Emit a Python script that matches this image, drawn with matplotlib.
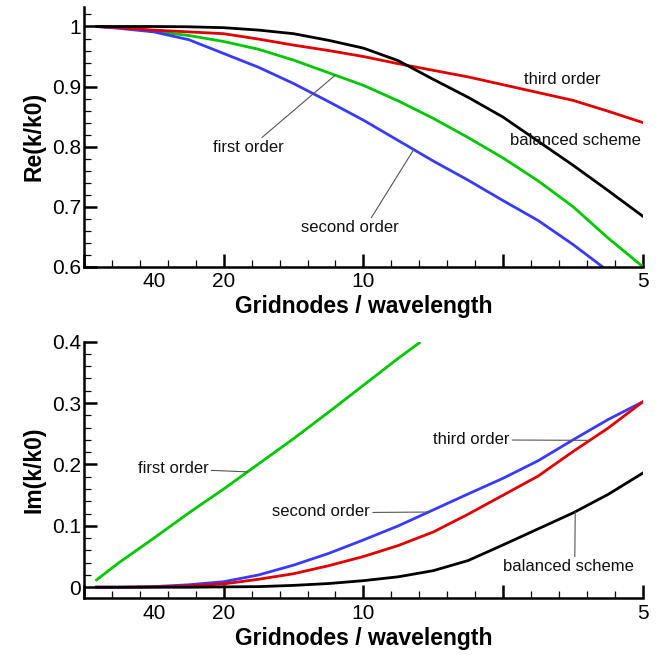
"""Dispersion of the discretisation schemes: real and imaginary parts of k/k0."""

import numpy as np
import matplotlib
matplotlib.use("Agg")
import matplotlib.pyplot as plt
from matplotlib.ticker import MultipleLocator

plt.rcParams['font.family'] = ['Liberation Sans', 'DejaVu Sans']

# Horizontal axis is 1/N (N = gridnodes per wavelength)
inv_n = [0.0045, 0.0125, 0.025, 0.0375, 0.05, 0.0625, 0.075, 0.0875, 0.1,
         0.1125, 0.125, 0.1375, 0.15, 0.1625, 0.175, 0.1875, 0.2]
x_tick_pos = [0.0, 0.025, 0.05, 0.1, 0.15, 0.2]
x_tick_labels = ["", "40", "20", "10", "", "5"]

# Re(k/k0)
re_first = [1.0, 0.998, 0.992, 0.985, 0.975, 0.962, 0.944, 0.923, 0.902,
            0.876, 0.847, 0.815, 0.781, 0.743, 0.700, 0.648, 0.600]
re_second = [1.0, 0.997, 0.991, 0.978, 0.955, 0.932, 0.905, 0.875, 0.844,
             0.810, 0.776, 0.744, 0.710, 0.677, 0.637, 0.593, 0.550]
re_third = [1.0, 0.998, 0.994, 0.991, 0.988, 0.979, 0.969, 0.960, 0.950,
            0.938, 0.927, 0.916, 0.903, 0.890, 0.877, 0.859, 0.840]
re_balanced = [1.0, 1.0, 1.0, 0.9995, 0.998, 0.994, 0.988, 0.977, 0.964,
               0.943, 0.912, 0.882, 0.849, 0.809, 0.769, 0.727, 0.684]

# Im(k/k0)
inv_n_first = [0.0045, 0.0125, 0.025, 0.0375, 0.05, 0.0625, 0.075, 0.0875,
               0.1, 0.1125, 0.12]
im_first = [0.012, 0.040, 0.080, 0.121, 0.160, 0.201, 0.242, 0.285,
            0.329, 0.373, 0.398]
im_second = [0.0, 0.0, 0.001, 0.004, 0.009, 0.020, 0.036, 0.055, 0.077,
             0.100, 0.126, 0.152, 0.1775, 0.206, 0.240, 0.273, 0.302]
im_third = [0.0, 0.0, 0.0005, 0.002, 0.0054, 0.013, 0.022, 0.035, 0.050,
            0.068, 0.090, 0.119, 0.150, 0.181, 0.221, 0.259, 0.302]
im_balanced = [0.0, 0.0, 0.0, 0.0, 0.0005, 0.001, 0.003, 0.006, 0.0107,
               0.017, 0.027, 0.0435, 0.069, 0.095, 0.121, 0.151, 0.186]

RED = "#e00000"
GREEN = "#00c800"
BLUE = "#3a3aff"
BLACK = "black"
LW = 2.0


def style_axes(ax, ylim, yticks, ylabels, ylabel):
    ax.set_xlim(0, 0.2)
    ax.set_ylim(*ylim)
    for side in ("top", "right"):
        ax.spines[side].set_visible(False)
    for side in ("left", "bottom"):
        ax.spines[side].set_linewidth(1.8)
    ax.set_xticks(x_tick_pos, x_tick_labels)
    ax.xaxis.set_minor_locator(MultipleLocator(0.01))
    ax.set_yticks(yticks, ylabels)
    ax.yaxis.set_minor_locator(MultipleLocator(0.02))
    ax.tick_params(which="both", direction="in", labelsize=15)
    ax.tick_params(which="major", length=9.5, width=1.8)
    ax.tick_params(which="minor", length=5, width=0.9)
    ax.tick_params(axis="y", pad=2)
    ax.tick_params(axis="x", pad=4)
    # the "40" label sits between ticks, so no tick mark under it
    ax.xaxis.get_major_ticks()[1].tick1line.set_visible(False)
    ax.set_xlabel("Gridnodes / wavelength", fontsize=16.5,
                  fontweight="bold", labelpad=3)
    ax.set_ylabel(ylabel, fontsize=16.5, fontweight="bold", labelpad=5)


def label(ax, text, xy, xytext, relpos=(0.5, 0.5)):
    ax.annotate(text, xy=xy, xytext=xytext, fontsize=12, color="#111111",
                ha="center", va="center",
                arrowprops=dict(arrowstyle="-", color="#555555", lw=0.8,
                                relpos=relpos, shrinkA=0, shrinkB=0))


fig = plt.figure(figsize=(6.59, 6.55), dpi=100)
ax_re = fig.add_axes([0.1275, 0.5928, 0.848, 0.397])
ax_im = fig.add_axes([0.1275, 0.0866, 0.848, 0.3918])

# Real part
ax_re.plot(inv_n, re_first, color=GREEN, lw=LW)
ax_re.plot(inv_n, re_second, color=BLUE, lw=LW)
ax_re.plot(inv_n, re_third, color=RED, lw=LW)
ax_re.plot(inv_n, re_balanced, color=BLACK, lw=LW)
style_axes(ax_re, (0.6, 1.033), [0.6, 0.7, 0.8, 0.9, 1.0],
           ["0.6", "0.7", "0.8", "0.9", "1"], "Re(k/k0)")

label(ax_re, "first order", (0.0899, np.interp(0.0899, inv_n, re_first)),
      (0.0587, 0.798), relpos=(0.65, 1.0))
label(ax_re, "second order", (0.118, np.interp(0.118, inv_n, re_second)),
      (0.0952, 0.6645), relpos=(0.7, 1.0))
ax_re.text(0.1711, 0.911, "third order", fontsize=12, color="#111111",
           ha="center", va="center")
ax_re.text(0.1758, 0.811, "balanced scheme", fontsize=12, color="#111111",
           ha="center", va="center")

# Imaginary part
ax_im.plot(inv_n_first, im_first, color=GREEN, lw=LW)
ax_im.plot(inv_n, im_second, color=BLUE, lw=LW)
ax_im.plot(inv_n, im_third, color=RED, lw=LW)
ax_im.plot(inv_n, im_balanced, color=BLACK, lw=LW)
style_axes(ax_im, (-0.018, 0.4), [0.0, 0.1, 0.2, 0.3, 0.4],
           ["0", "0.1", "0.2", "0.3", "0.4"], "Im(k/k0)")

label(ax_im, "first order", (0.0585, np.interp(0.0585, inv_n_first, im_first)),
      (0.0319, 0.193), relpos=(1.0, 0.4))
label(ax_im, "second order", (0.1233, np.interp(0.1233, inv_n, im_second)),
      (0.0849, 0.123), relpos=(1.0, 0.45))
label(ax_im, "third order", (0.181, np.interp(0.181, inv_n, im_third)),
      (0.1386, 0.241), relpos=(1.0, 0.45))
label(ax_im, "balanced scheme", (0.1758, np.interp(0.1758, inv_n, im_balanced)),
      (0.1733, 0.033), relpos=(0.55, 1.0))

fig.savefig("out.png", dpi=100)
